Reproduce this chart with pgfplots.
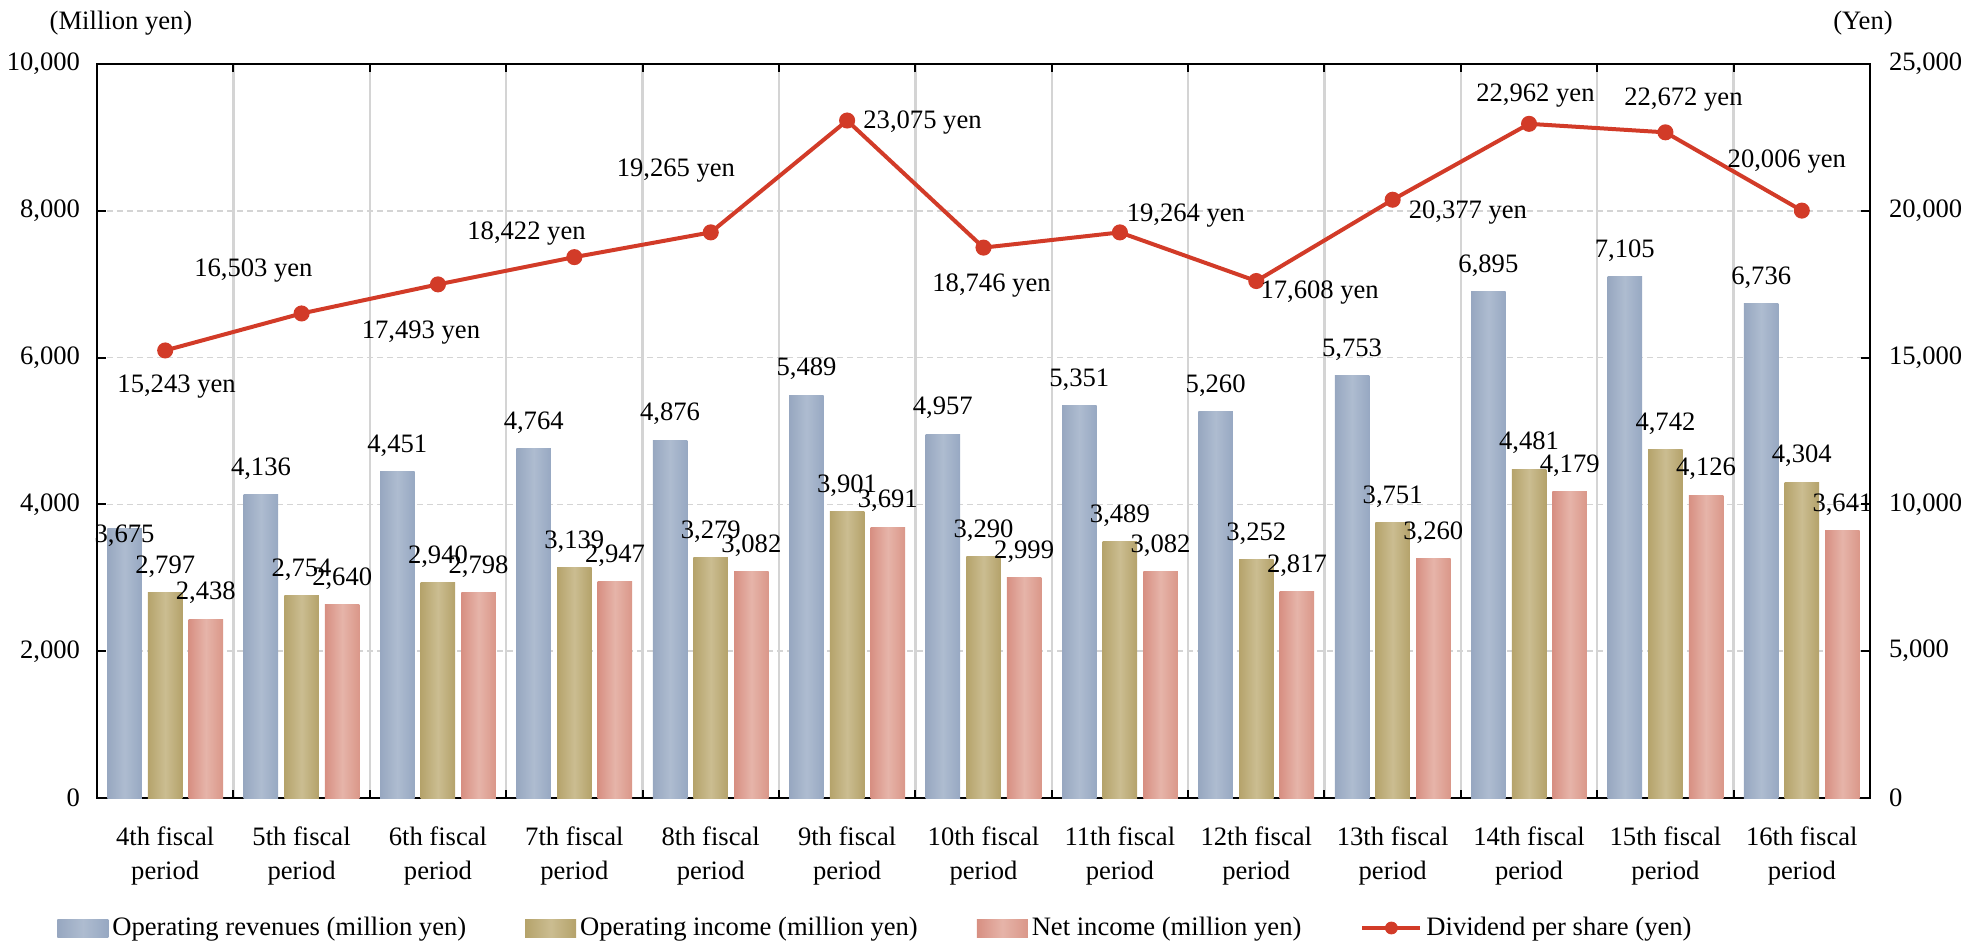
\documentclass[border=0pt]{standalone}
\usepackage{fontspec}
\setmainfont{Liberation Serif}
\usepackage{pgfplots}
\usepackage{pgfplotstable}
\pgfplotsset{compat=1.18}
\newcommand{\cf}{\fontsize{13.3}{17}\selectfont}
\definecolor{blueL}{HTML}{97A7C0}
\definecolor{blueM}{HTML}{AEBCD0}
\definecolor{blueR}{HTML}{97A8C2}
\definecolor{goldL}{HTML}{B5A36B}
\definecolor{goldM}{HTML}{CBBD91}
\definecolor{goldR}{HTML}{B4A26A}
\definecolor{redL}{HTML}{D78F82}
\definecolor{redM}{HTML}{E6B4A9}
\definecolor{redR}{HTML}{DA9789}
\definecolor{lineC}{HTML}{D23B28}
\definecolor{gridC}{HTML}{D4D4D4}

\pgfplotstableread{
x rev inc net div dx dy bdy
0  3675 2797 2438 15243   5.7 -18.2 -12.5
1  4136 2754 2640 16503 -24.1  21.5 4
2  4451 2940 2798 17493  -8.5 -24.2 4
3  4764 3139 2947 18422 -23.9  12.0 4
4  4876 3279 3082 19265 -17.4  31.0 4
5  5489 3901 3691 23075  37.7  -1.0 4
6  4957 3290 2999 18746   4.0 -19.0 4
7  5351 3489 3082 19264  33.0   8.5 4
8  5260 3252 2817 17608  31.7  -5.5 4
9  5753 3751 3260 20377  37.6  -6.2 4
10 6895 4481 4179 22962   3.2  14.2 4
11 7105 4742 4126 22672   9.0  16.3 4
12 6736 4304 3641 20006  -7.5  24.5 4
}\data

\pgfplotsset{
  /pgf/number format/.cd, 1000 sep={,}, fixed, precision=0, assume math mode=true,
  /pgfplots/.cd,
  every axis/.append style={
    scale only axis, width=886.5pt, height=367pt,
    xmin=-0.5, xmax=12.5,
    scaled y ticks=false,
    tick label style={font=\cf},
    every node near coord/.append style={font=\cf},
  },
  barblue/.style={ybar, bar width=0.253, bar shift=-0.298, draw=none,
    left color=blueL, right color=blueR, middle color=blueM, forget plot},
  bargold/.style={ybar, bar width=0.253, bar shift=0, draw=none,
    left color=goldL, right color=goldR, middle color=goldM, forget plot},
  barred/.style={ybar, bar width=0.253, bar shift=0.298, draw=none,
    left color=redL, right color=redR, middle color=redM, forget plot},
  lab/.style={draw=none, mark=none, forget plot, point meta=explicit,
    nodes near coords, nodes near coords style={text=black}},
}

\begin{document}
\begin{tikzpicture}
\useasboundingbox (-48.5pt,-72pt) rectangle (933.5pt,399pt);
\begin{axis}[
  clip=false,
  ymin=0, ymax=10000,
  ytick={0,2000,...,10000},
  yticklabel style={xshift=-5pt},
  ytick align=inside,
  major tick length=4.5pt,
  ytick pos=left,
  xtick={0,...,12},
  xticklabels={{4th fiscal\\period},{5th fiscal\\period},{6th fiscal\\period},{7th fiscal\\period},{8th fiscal\\period},{9th fiscal\\period},{10th fiscal\\period},{11th fiscal\\period},{12th fiscal\\period},{13th fiscal\\period},{14th fiscal\\period},{15th fiscal\\period},{16th fiscal\\period}},
  xticklabel style={align=center, yshift=-10.7pt},
  minor xtick={-0.5,0.5,...,12.5},
  xtick align=inside,
  minor tick length=4pt,
  major x tick style={draw=none},
  minor x tick style={black, line width=1pt},
  every tick/.style={black, line width=1pt},
  ymajorgrids, xminorgrids,
  major grid style={gridC, line width=0.8pt, dash pattern=on 3pt off 2pt},
  minor grid style={gridC, line width=1.2pt},
  axis line style={black, line width=1pt},
  legend style={draw=none, fill=none, inner sep=0pt, at={(0,0)}, anchor=west,
    xshift=-20pt, yshift=-65pt, legend columns=4, font=\cf,
    /tikz/every even column/.append style={column sep=27.5pt}},
  legend cell align=left,
]
\pgfplotsinvokeforeach{0,...,12}{
  \addplot[barblue, restrict x to domain=#1:#1] table[x=x, y=rev] {\data};
  \addplot[bargold, restrict x to domain=#1:#1] table[x=x, y=inc] {\data};
  \addplot[barred, restrict x to domain=#1:#1] table[x=x, y=net] {\data};
}
\addplot[lab, visualization depends on={\thisrow{bdy}\as\bdy},
  nodes near coords style={yshift=\bdy pt}]
  table[x expr=\thisrow{x}-0.298, y=rev, meta=rev] {\data};
\addplot[lab, nodes near coords style={yshift=4pt}]
  table[x=x, y=inc, meta=inc] {\data};
\addplot[lab, nodes near coords style={yshift=4pt}]
  table[x expr=\thisrow{x}+0.298, y=net, meta=net] {\data};
\addlegendimage{legend image code/.code={\path[draw=none, left color=blueL, right color=blueR, middle color=blueM] (0pt,-4.5pt) rectangle (25.5pt,4.5pt);}}
\addlegendentry{Operating revenues (million yen)}
\addlegendimage{legend image code/.code={\path[draw=none, left color=goldL, right color=goldR, middle color=goldM] (0pt,-4.5pt) rectangle (25.5pt,4.5pt);}}
\addlegendentry{Operating income (million yen)}
\addlegendimage{legend image code/.code={\path[draw=none, left color=redL, right color=redR, middle color=redM] (0pt,-4.5pt) rectangle (25.5pt,4.5pt);}}
\addlegendentry{Net income (million yen)}
\addlegendimage{legend image code/.code={
  \draw[lineC, line width=2pt] (0pt,0pt) -- (29pt,0pt);
  \fill[lineC] (14.5pt,0pt) circle (3pt);}}
\addlegendentry{Dividend per share (yen)}
\node[font=\cf] at (rel axis cs:0,1) [xshift=12pt, yshift=20.5pt] {(Million yen)};
\node[font=\cf] at (rel axis cs:1,1) [xshift=-3.5pt, yshift=20.5pt] {(Yen)};
\end{axis}
\begin{axis}[
  clip=false,
  axis y line*=right, axis x line=none,
  ymin=0, ymax=25000,
  ytick={0,5000,...,25000},
  ytick align=inside,
  major tick length=4.5pt,
  every tick/.style={black, line width=1pt},
  yticklabel style={xshift=6pt},
  axis line style={black, line width=1pt},
]
\addplot[lineC, line width=2pt, mark=*, mark size=3pt,
  mark options={fill=lineC, draw=lineC},
  point meta=explicit, nodes near coords={\pgfmathprintnumber{\pgfplotspointmeta}~yen},
  visualization depends on={\thisrow{dx}\as\ddx},
  visualization depends on={\thisrow{dy}\as\ddy},
  nodes near coords style={anchor=center, xshift=\ddx pt, yshift=\ddy pt, text=black},
] table[x=x, y=div, meta=div] {\data};
\end{axis}
\end{tikzpicture}
\end{document}
